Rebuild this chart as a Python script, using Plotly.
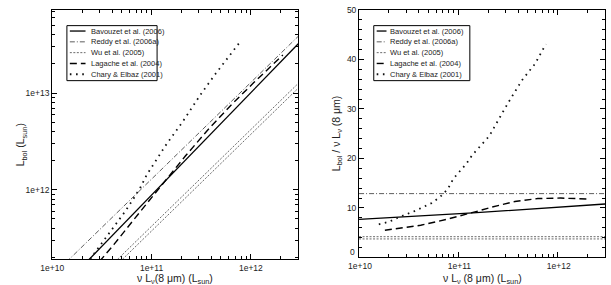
import plotly.graph_objects as go

# ---------------- data ----------------
bav_x = [1e10, 1.4e11, 3e12]
bav_ratio = [7.7, 9.0, 10.8]

reddy_x = [1e10, 3e12]
reddy_ratio = [12.9, 12.9]

wu_x = [1e10, 3e12]
wu_ratio_hi = [4.2, 4.2]
wu_ratio_lo = [3.75, 3.75]

lag_x = [1.82e10, 4.17e10, 7.6e10, 1.2e11, 1.66e11, 2.19e11, 3.7e11, 6.3e11, 1.07e12, 2.1e12]
lag_ratio = [5.5, 6.5, 7.7, 8.7, 9.5, 10.2, 11.3, 11.9, 12.0, 11.8]

chary_x = [1.58e10, 2.0e10, 2.5e10, 3.55e10, 5.4e10, 6.6e10, 7.8e10, 8.9e10, 1.0e11,
           1.2e11, 1.38e11, 2.04e11, 3.16e11, 4.37e11, 5.9e11, 7.6e11]
chary_ratio = [6.7, 7.2, 8.1, 9.3, 11.0, 12.3, 13.8, 15.9, 17.1,
               18.9, 20.7, 24.5, 31.2, 35.8, 39.1, 43.1]

legend_names = ["Bavouzet et al. (2006)", "Reddy et al. (2006a)", "Wu et al. (2005)",
                "Lagache et al. (2004)", "Chary & Elbaz (2001)"]

x_ticks = [1e10, 1e11, 1e12]
x_ticktext = ["1e+10", "1e+11", "1e+12"]
yl_ticks = [1e12, 1e13]
yl_ticktext = ["1e+12", "1e+13"]
yr_ticks = [0, 10, 20, 30, 40, 50]
yr_ticktext = ["", "10", "20", "30", "40", "50"]   # "0" drawn separately (see below)
yr_zero_label = "0"

# ---------------- styles ----------------
W, H = 611, 285
FONT = "Liberation Sans"
styles = [
    dict(color="black", width=1.3, dash="solid"),
    dict(color="#333", width=0.8, dash="5px,2px,1px,2px"),
    dict(color="#444", width=0.8, dash="2px,1.5px"),
    dict(color="black", width=1.4, dash="7px,4px"),
    dict(color="#111", width=1.8, dash="1.6px,4.6px"),
]

def px(x):
    return x / W

def py(y):
    return 1 - y / H

series = [
    (bav_x, [bav_ratio], 0),
    (reddy_x, [reddy_ratio], 1),
    (wu_x, [wu_ratio_hi, wu_ratio_lo], 2),
    (lag_x, [lag_ratio], 3),
    (chary_x, [chary_ratio], 4),
]

fig = go.Figure()
for xs, ratios, si in series:
    for r in ratios:
        lbol = [a * b for a, b in zip(xs, r)]
        fig.add_trace(go.Scatter(x=xs, y=lbol, mode="lines", line=styles[si],
                                 xaxis="x", yaxis="y", showlegend=False, hoverinfo="skip"))
        fig.add_trace(go.Scatter(x=xs, y=r, mode="lines", line=styles[si],
                                 xaxis="x2", yaxis="y2", showlegend=False, hoverinfo="skip"))

minor_x = [m * 10 ** e for e in (10, 11) for m in range(2, 10)] + [2e12, 3e12]
minor_yl = [m * 10 ** e for e in (11, 12) for m in range(2, 10)] + [m * 1e13 for m in range(2, 8)]

tickfont = dict(family=FONT, size=8.5, color="#222")
common = dict(showline=True, linecolor="black", linewidth=1, mirror="ticks",
              ticks="inside", ticklen=5, tickcolor="black", showgrid=False,
              zeroline=False, tickfont=tickfont, ticklabeloverflow="allow")

fig.update_layout(
    width=W, height=H,
    margin=dict(l=0, r=0, t=0, b=0),
    paper_bgcolor="white", plot_bgcolor="white",
    showlegend=False,
    xaxis=dict(domain=[px(41), px(292)], type="log", range=[10, 12.477],
               tickmode="array", tickvals=x_ticks, ticktext=x_ticktext,
               minor=dict(tickmode="array", tickvals=minor_x, ticks="inside", ticklen=3,
                          tickcolor="black", showgrid=False),
               anchor="y", **common),
    yaxis=dict(domain=[py(259), py(5)], type="log", range=[11.28, 13.86],
               tickmode="array", tickvals=yl_ticks, ticktext=yl_ticktext,
               minor=dict(tickmode="array", tickvals=minor_yl, ticks="inside", ticklen=3,
                          tickcolor="black", showgrid=False),
               anchor="x", **common),
    xaxis2=dict(domain=[px(354), px(605)], type="log", range=[10, 12.477],
                tickmode="array", tickvals=x_ticks, ticktext=x_ticktext,
                minor=dict(tickmode="array", tickvals=minor_x, ticks="inside", ticklen=3,
                           tickcolor="black", showgrid=False),
                ticklabelshift=1, anchor="y2", **common),
    yaxis2=dict(domain=[py(257), py(5)], range=[0, 50],
                tickmode="array", tickvals=yr_ticks, ticktext=yr_ticktext,
                minor=dict(dtick=2, ticks="inside", ticklen=3, tickcolor="black", showgrid=False),
                anchor="x2", **common),
)

shapes = []
annotations = []
# manual legends
for (bx0, by0, bx1, by1, sx0, sx1, tx) in [(56, 21, 148, 77, 59, 75, 79),
                                            (369, 21, 467, 77, 372, 382, 384)]:
    shapes.append(dict(type="rect", xref="paper", yref="paper",
                       x0=px(bx0), x1=px(bx1), y0=py(by1), y1=py(by0),
                       line=dict(color="black", width=1), fillcolor="white", layer="above"))
    for i, name in enumerate(legend_names):
        yy = 26.5 + 11 * i
        st = styles[i]
        shapes.append(dict(type="line", xref="paper", yref="paper",
                           x0=px(sx0), x1=px(sx1), y0=py(yy), y1=py(yy),
                           line=dict(color=st["color"], width=st["width"], dash=st["dash"]),
                           layer="above"))
        annotations.append(dict(text=name, xref="paper", yref="paper", x=px(tx), y=py(yy),
                                xanchor="left", yanchor="middle", showarrow=False,
                                font=dict(family=FONT, size=7.5, color="#222")))

title_font = dict(family=FONT, size=10.5, color="#222")
annotations += [
    dict(text=yr_zero_label, xref="paper", yref="paper", x=px(351), y=py(258),
         xanchor="right", yanchor="bottom", showarrow=False, borderpad=0, font=tickfont),
    dict(text="ν L<sub>ν</sub>(8 μm) (L<sub>sun</sub>)", xref="paper", yref="paper",
         x=px(166), y=py(287), xanchor="center", yanchor="bottom", showarrow=False,
         borderpad=0, font=title_font),
    dict(text="ν L<sub>ν</sub> (8 μm) (L<sub>sun</sub>)", xref="paper", yref="paper",
         x=px(480), y=py(287), xanchor="center", yanchor="bottom", showarrow=False,
         borderpad=0, font=title_font),
    dict(text="L<sub>bol</sub> (L<sub>sun</sub>)", xref="paper", yref="paper",
         x=px(9), y=py(142), xanchor="center", yanchor="middle", showarrow=False,
         textangle=-90, font=title_font),
    dict(text="L<sub>bol</sub> / ν L<sub>ν</sub> (8 μm)", xref="paper", yref="paper",
         x=px(331), y=py(130), xanchor="center", yanchor="middle", showarrow=False,
         textangle=-90, font=title_font),
]
fig.update_layout(shapes=shapes, annotations=annotations)

fig.write_html("out.html")
